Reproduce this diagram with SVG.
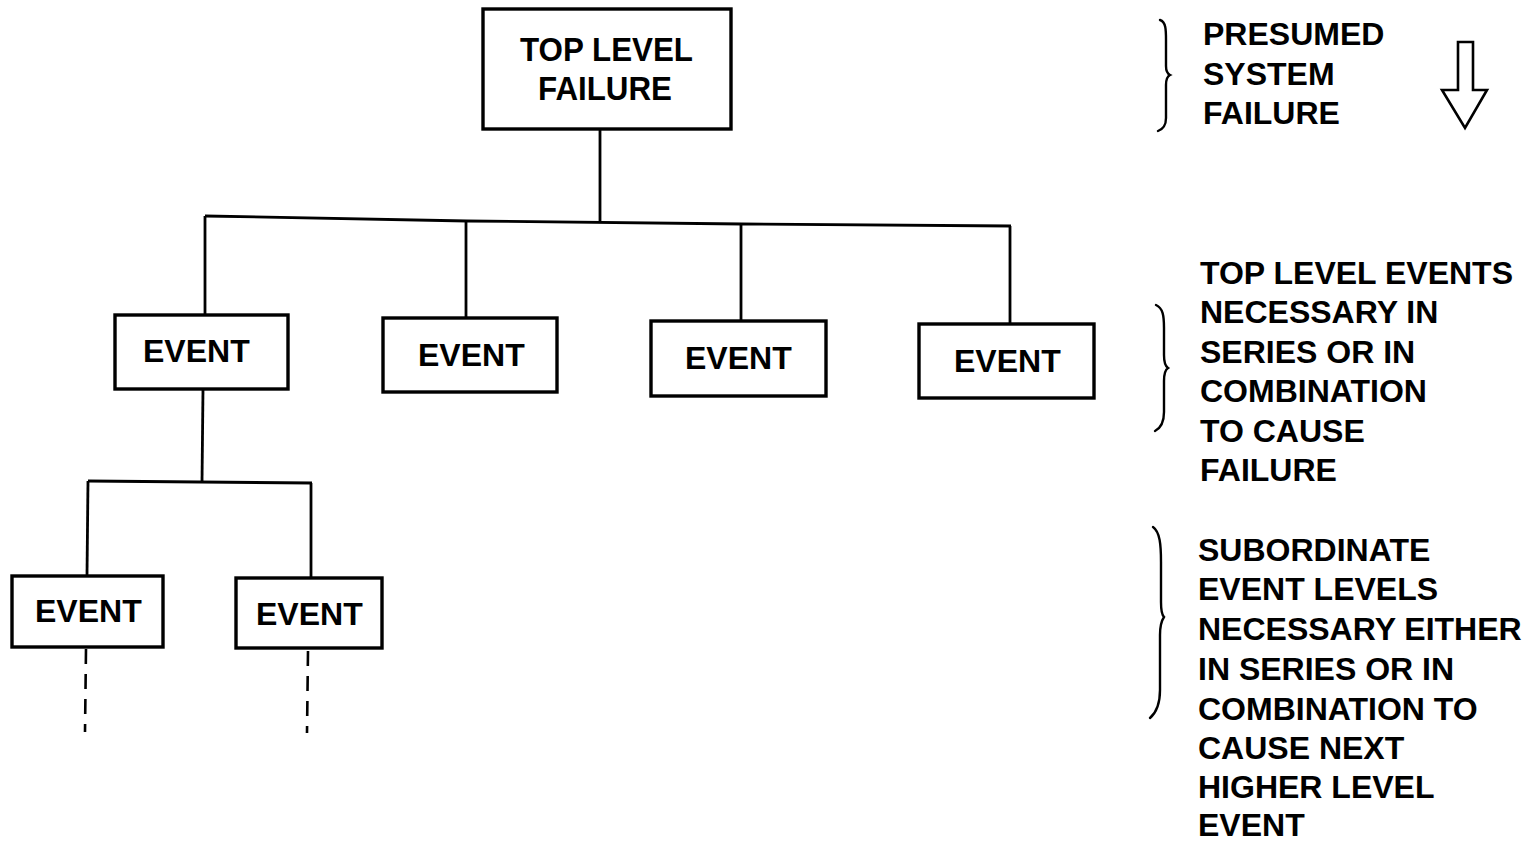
<svg xmlns="http://www.w3.org/2000/svg" width="1538" height="842" viewBox="0 0 1538 842">
<style>
.box{fill:#fff;stroke:#000;stroke-width:3.4}
.t{font-family:"Liberation Sans",Arial,sans-serif;font-weight:bold;font-size:32px;fill:#000}
.tb{font-family:"Liberation Sans",Arial,sans-serif;font-weight:bold;font-size:34px;fill:#000}
.ln{fill:none;stroke:#000;stroke-width:2.8}
.dash{fill:none;stroke:#000;stroke-width:2.6;stroke-dasharray:15 10}
.br{fill:none;stroke:#000;stroke-width:2.4;stroke-linecap:round}
</style>
<rect width="1538" height="842" fill="#fff"/>
<g id="connectors">
<path class="ln" d="M600,130 L600,221"/>
<path class="ln" d="M205,216 L467,221 L742,224 L1011,226"/>
<path class="ln" d="M205,216 L205,315"/>
<path class="ln" d="M466,221 L466,318"/>
<path class="ln" d="M741,224 L741,321"/>
<path class="ln" d="M1010,226 L1010,324"/>
<path class="ln" d="M203,389 L202,482"/>
<path class="ln" d="M88,481 L312,483"/>
<path class="ln" d="M88,481 L87,575"/>
<path class="ln" d="M311,483 L311,578"/>
<path class="dash" d="M86,649 L85,732"/>
<path class="dash" d="M308,651 L307,733"/>
</g>
<g id="top">
<rect class="box" x="483" y="9" width="248" height="120"/>
<text class="tb" x="520" y="61" textLength="173" lengthAdjust="spacingAndGlyphs">TOP LEVEL</text>
<text class="tb" x="538" y="100" textLength="134" lengthAdjust="spacingAndGlyphs">FAILURE</text>
</g>
<g id="event1">
<rect class="box" x="115" y="315" width="173" height="74"/>
<text class="t" x="143" y="362">EVENT</text>
</g>
<g id="event2">
<rect class="box" x="383" y="318" width="174" height="74"/>
<text class="t" x="418" y="366">EVENT</text>
</g>
<g id="event3">
<rect class="box" x="651" y="321" width="175" height="75"/>
<text class="t" x="685" y="369">EVENT</text>
</g>
<g id="event4">
<rect class="box" x="919" y="324" width="175" height="74"/>
<text class="t" x="954" y="372">EVENT</text>
</g>
<g id="event11">
<rect class="box" x="12" y="576" width="151" height="71"/>
<text class="t" x="35" y="622">EVENT</text>
</g>
<g id="event12">
<rect class="box" x="236" y="578" width="146" height="70"/>
<text class="t" x="256" y="625">EVENT</text>
</g>
<g id="legend1">
<path class="br" d="M1160,20 C1166,22 1166,30 1166,40 L1166,66 C1166,72 1168,74 1170,75 C1168,76 1166,79 1166,85 L1166,118 C1166,126 1163,129 1158,131"/>
<text class="t" x="1203" y="45">PRESUMED</text>
<text class="t" x="1203" y="85">SYSTEM</text>
<text class="t" x="1203" y="124">FAILURE</text>
<path fill="none" stroke="#000" stroke-width="2.6" stroke-linejoin="miter" d="M1458,42 L1473,42 L1473,90 L1487,90 L1465,128 L1442,90 L1458,90 Z"/>
</g>
<g id="legend2">
<path class="br" d="M1156,305 C1163,308 1164,316 1164,328 L1164,355 C1164,362 1165,366 1168,368 C1165,370 1164,374 1164,381 L1164,412 C1164,422 1161,428 1155,431"/>
<text class="t" x="1200" y="284">TOP LEVEL EVENTS</text>
<text class="t" x="1200" y="323">NECESSARY IN</text>
<text class="t" x="1200" y="363">SERIES OR IN</text>
<text class="t" x="1200" y="402">COMBINATION</text>
<text class="t" x="1200" y="442">TO CAUSE</text>
<text class="t" x="1200" y="481">FAILURE</text>
</g>
<g id="legend3">
<path class="br" d="M1153,527 C1160,532 1161,545 1161,562 L1161,602 C1161,610 1162,615 1164,617 C1162,620 1160,626 1160,635 L1160,690 C1160,704 1157,712 1150,718"/>
<text class="t" x="1198" y="561">SUBORDINATE</text>
<text class="t" x="1198" y="600">EVENT LEVELS</text>
<text class="t" x="1198" y="640">NECESSARY EITHER</text>
<text class="t" x="1198" y="680">IN SERIES OR IN</text>
<text class="t" x="1198" y="720">COMBINATION TO</text>
<text class="t" x="1198" y="759">CAUSE NEXT</text>
<text class="t" x="1198" y="798">HIGHER LEVEL</text>
<text class="t" x="1198" y="836">EVENT</text>
</g>
</svg>
